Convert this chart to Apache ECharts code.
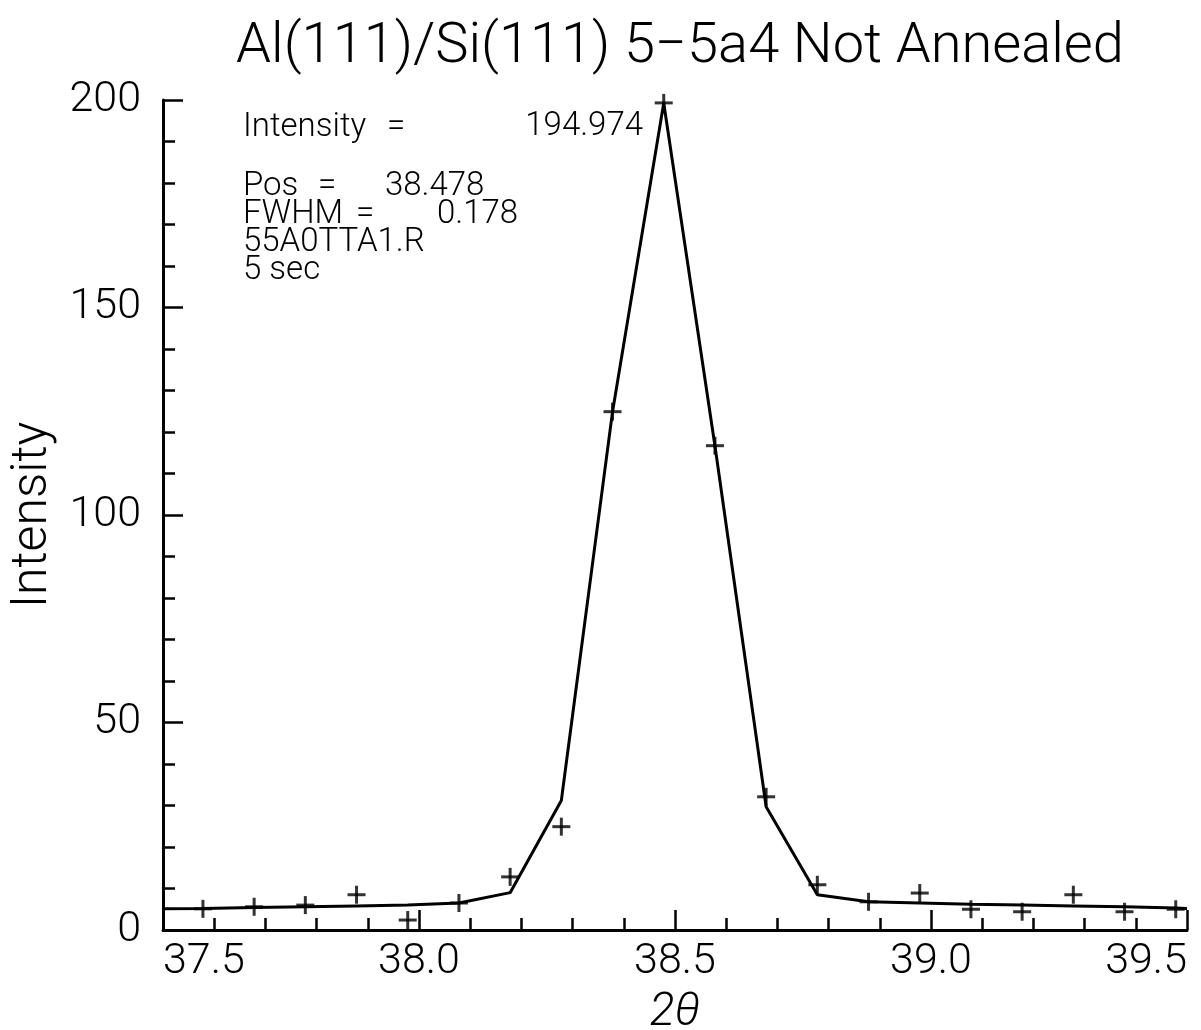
<!DOCTYPE html>
<html>
<head>
<meta charset="utf-8">
<script src="https://cdn.jsdelivr.net/npm/echarts@6/dist/echarts.min.js"></script>
<style>html,body{margin:0;padding:0;background:#fff}#c{width:1201px;height:1030px}</style>
</head>
<body>
<div id="c"></div>
<script>
// Measured scan points (crosses)
var scanX = [37.578, 37.678, 37.778, 37.878, 37.978, 38.078, 38.178, 38.278, 38.378, 38.478,
             38.578, 38.678, 38.778, 38.878, 38.978, 39.078, 39.178, 39.278, 39.378, 39.478];
var scanY = [5.1, 5.6, 6.0, 8.5, 2.4, 6.5, 12.8, 24.9, 124.9, 199.3,
             116.7, 32.1, 10.9, 6.8, 8.9, 5.0, 4.4, 8.5, 4.4, 5.0];
// Fitted curve (solid line)
var fitX = [37.5, 37.578, 37.678, 37.778, 37.878, 37.978, 38.078, 38.178, 38.278, 38.378, 38.478,
            38.578, 38.678, 38.778, 38.878, 38.978, 39.078, 39.178, 39.278, 39.378, 39.478, 39.5];
var fitY = [5.1, 5.2, 5.4, 5.6, 5.8, 6.0, 6.5, 9.0, 31.2, 124.9, 199.3,
            116.7, 29.7, 8.5, 6.8, 6.5, 6.2, 6.0, 5.8, 5.6, 5.3, 5.2];
// Axis ticks
var xMin = 37.5, xMax = 39.5, xStep = 0.5;
var yMin = 0, yMax = 200, yStep = 50;
var titleText = 'Al(111)/Si(111) 5\u22125a4 Not Annealed';
var infoLines = [
  ['Intensity', '=', '194.974'],
  ['Pos', '=', '38.478'],
  ['FWHM', '=', '0.178'],
  ['55A0TTA1.R'],
  ['5 sec']
];

var FONT = 'Roboto, "Liberation Sans", sans-serif';
var chart = echarts.init(document.getElementById('c'), null, {renderer: 'canvas'});

var scanPts = scanX.map(function (x, i) { return [x, scanY[i]]; });
var fitPts = fitX.map(function (x, i) { return [x, fitY[i]]; });

function txt(text, x, y, size, align) {
  return {type: 'text', x: x, y: y, style: {text: text, font: '300 ' + size + 'px ' + FONT,
    fill: '#000', align: align || 'left', verticalAlign: 'middle'}};
}

var graphics = [
  txt(infoLines[0][0], 243, 128, 33), txt(infoLines[0][1], 387, 128, 33),
  txt(infoLines[0][2], 643, 127, 33, 'right'),
  txt(infoLines[1][0], 243, 187, 33), txt(infoLines[1][1], 318, 187, 33), txt(infoLines[1][2], 385, 187, 33),
  txt(infoLines[2][0], 243, 215, 33), txt(infoLines[2][1], 356, 215, 33), txt(infoLines[2][2], 437, 215, 33),
  txt(infoLines[3][0], 243, 243, 33),
  txt(infoLines[4][0], 243, 271, 33)
];

chart.setOption({
  animation: false,
  backgroundColor: '#fff',
  title: {
    text: titleText, left: 675, top: 15, textAlign: 'center',
    textStyle: {fontFamily: FONT, fontWeight: 300, fontSize: 56, color: '#000'}
  },
  grid: {left: 163, right: 14, top: 100, bottom: 100, containLabel: false, outerBoundsMode: 'none'},
  xAxis: {
    type: 'value', min: xMin, max: xMax, interval: xStep,
    name: '2\u03b8', nameLocation: 'middle', nameGap: 60,
    nameTextStyle: {fontFamily: FONT, fontStyle: 'italic', fontWeight: 300, fontSize: 46, color: '#000'},
    axisLine: {show: true, lineStyle: {color: '#000', width: 3}},
    axisTick: {show: true, inside: true, length: 20, lineStyle: {color: '#000', width: 2.5}},
    minorTick: {show: true, splitNumber: 5, length: 12, lineStyle: {color: '#000', width: 2.5}},
    axisLabel: {fontFamily: FONT, fontWeight: 300, fontSize: 43, color: '#000', margin: 11,
      alignMinLabel: 'left', alignMaxLabel: 'right',
      formatter: function (v) { return v.toFixed(1); }},
    splitLine: {show: false}
  },
  yAxis: {
    type: 'value', min: yMin, max: yMax, interval: yStep,
    name: 'Intensity', nameLocation: 'middle', nameGap: 104, nameRotate: 90,
    nameTextStyle: {fontFamily: FONT, fontWeight: 300, fontSize: 50, color: '#000'},
    axisLine: {show: true, lineStyle: {color: '#000', width: 3}},
    axisTick: {show: true, inside: true, length: 20, lineStyle: {color: '#000', width: 2.5}},
    minorTick: {show: true, splitNumber: 5, length: 12, lineStyle: {color: '#000', width: 2.5}},
    axisLabel: {fontFamily: FONT, fontWeight: 300, fontSize: 43, color: '#000', margin: 22},
    splitLine: {show: false}
  },
  series: [
    {type: 'line', data: fitPts, symbol: 'none', lineStyle: {color: '#000', width: 3}, z: 3},
    {type: 'scatter', data: scanPts, symbol: 'rect', symbolSize: [18, 3],
      itemStyle: {color: '#000'}, z: 4},
    {type: 'scatter', data: scanPts, symbol: 'rect', symbolSize: [3, 18],
      itemStyle: {color: '#000'}, z: 4}
  ],
  graphic: graphics
});
</script>
</body>
</html>
